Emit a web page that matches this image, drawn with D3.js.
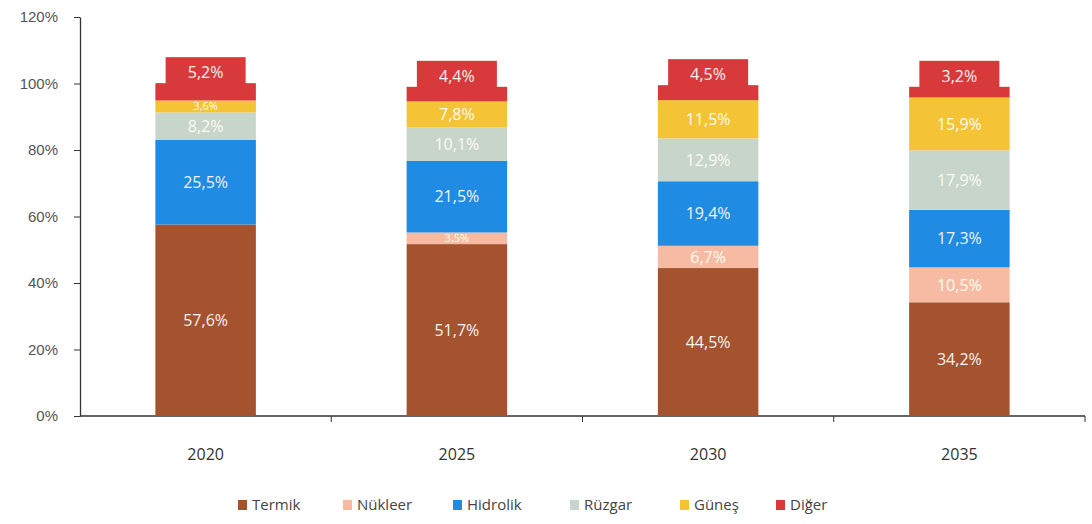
<!DOCTYPE html>
<html lang="tr">
<head>
<meta charset="UTF-8">
<title>Kurulu güç dağılımı</title>
<script src="https://d3js.org/d3.v7.min.js"></script>
<style>
  body { margin: 0; background: #fff; }
  svg { display: block; font-family: "Open Sans", "Liberation Sans", sans-serif; }
</style>
</head>
<body>
<svg id="chart"></svg>
<script>
// data
const years = ["2020", "2025", "2030", "2035"];
const sources = ["Termik", "Nükleer", "Hidrolik", "Rüzgar", "Güneş", "Diğer"];
const termik   = [57.6, 51.7, 44.5, 34.2];
const nukleer  = [0, 3.5, 6.7, 10.5];
const hidrolik = [25.5, 21.5, 19.4, 17.3];
const ruzgar   = [8.2, 10.1, 12.9, 17.9];
const gunes    = [3.6, 7.8, 11.5, 15.9];
const diger    = [5.2, 4.4, 4.5, 3.2];
const yTicks = [0, 20, 40, 60, 80, 100, 120];

const colors = ["#a5522f", "#f7bba3", "#1f8be3", "#c8d5cb", "#f5c336", "#d8393b"];

const width = 1092, height = 524;
const margin = { top: 17, right: 7, bottom: 108, left: 80 };

const svg = d3.select("#chart").attr("width", width).attr("height", height);

const rows = years.map((y, i) => ({
  year: y,
  Termik: termik[i], "Nükleer": nukleer[i], Hidrolik: hidrolik[i],
  "Rüzgar": ruzgar[i], "Güneş": gunes[i], "Diğer": diger[i]
}));
const stacked = d3.stack().keys(sources)(rows);

const x = d3.scaleBand().domain(years)
  .range([margin.left, width - margin.right]).paddingInner(0.6).paddingOuter(0.3);
const y = d3.scaleLinear().domain([0, 120]).range([height - margin.bottom, margin.top]);

// y axis
const yAxis = svg.append("g")
  .attr("transform", `translate(${margin.left},0)`)
  .call(d3.axisLeft(y).tickValues(yTicks).tickFormat(d => d + "%").tickSize(6).tickSizeOuter(0));
yAxis.select(".domain").attr("stroke", "#333").attr("stroke-width", 1.3);
yAxis.selectAll(".tick line").attr("stroke", "#333");
yAxis.selectAll("text").attr("font-size", 15).attr("fill", "#555").attr("x", -22);

// x axis with tick marks between the categories
const step = x.step();
const xAxis = svg.append("g").attr("transform", `translate(0,${y(0)})`);
xAxis.append("line")
  .attr("x1", margin.left).attr("x2", width - margin.right)
  .attr("stroke", "#333").attr("stroke-width", 1.3);
xAxis.selectAll(".sep").data(years).join("line")
  .attr("class", "sep")
  .attr("x1", d => x(d) + x.bandwidth() / 2 + step / 2)
  .attr("x2", d => x(d) + x.bandwidth() / 2 + step / 2)
  .attr("y1", 0).attr("y2", 6).attr("stroke", "#333");
xAxis.selectAll(".lab").data(years).join("text")
  .attr("class", "lab")
  .attr("x", d => x(d) + x.bandwidth() / 2)
  .attr("y", 44)
  .attr("text-anchor", "middle")
  .attr("font-size", 16).attr("fill", "#333")
  .text(d => d);

// bars
const layers = svg.append("g").selectAll("g").data(stacked).join("g")
  .attr("fill", (d, i) => colors[i]);
layers.selectAll("rect").data(d => d).join("rect")
  .attr("x", d => x(d.data.year))
  .attr("y", d => y(d[1]))
  .attr("width", x.bandwidth())
  .attr("height", d => y(d[0]) - y(d[1]));

// red label boxes on top of the Diğer segments
const lastLayer = stacked[stacked.length - 1];
svg.append("g").selectAll("rect").data(lastLayer).join("rect")
  .attr("x", d => x(d.data.year) + x.bandwidth() / 2 - 40)
  .attr("y", d => y(d[1]) - 26)
  .attr("width", 80).attr("height", 30)
  .attr("fill", colors[5]);

// value labels (smaller type where the segment is thin)
const fmt = v => d3.format(".1f")(v).replace(".", ",") + "%";
const segH = d => y(d[0]) - y(d[1]);
const fsize = (d, k) => k === 5 ? 16 : Math.max(11, Math.min(16, segH(d) - 1));
stacked.forEach((layer, k) => {
  svg.append("g").selectAll("text").data(layer.filter(d => d[1] - d[0] > 0)).join("text")
    .attr("x", d => x(d.data.year) + x.bandwidth() / 2)
    .attr("y", d => k === 5 ? y(d[1]) - 5 : y((d[0] + d[1]) / 2) + fsize(d, k) * 0.36)
    .attr("text-anchor", "middle")
    .attr("font-size", d => fsize(d, k))
    .attr("fill", k === 3 || k === 1 || k === 4 ? "#fbfbf0" : "#f2f2f2")
    .text(d => fmt(d[1] - d[0]));
});

// legend
const legendX = [238, 343, 453, 570, 680, 776];
const legend = svg.append("g").selectAll("g").data(sources).join("g")
  .attr("transform", (d, i) => `translate(${legendX[i]},506)`);
legend.append("rect")
  .attr("x", 0).attr("y", -6).attr("width", 9).attr("height", 10)
  .attr("fill", (d, i) => colors[i]);
legend.append("text")
  .attr("x", 14).attr("y", 4)
  .attr("font-size", 15).attr("fill", "#444")
  .text(d => d);
</script>
</body>
</html>
